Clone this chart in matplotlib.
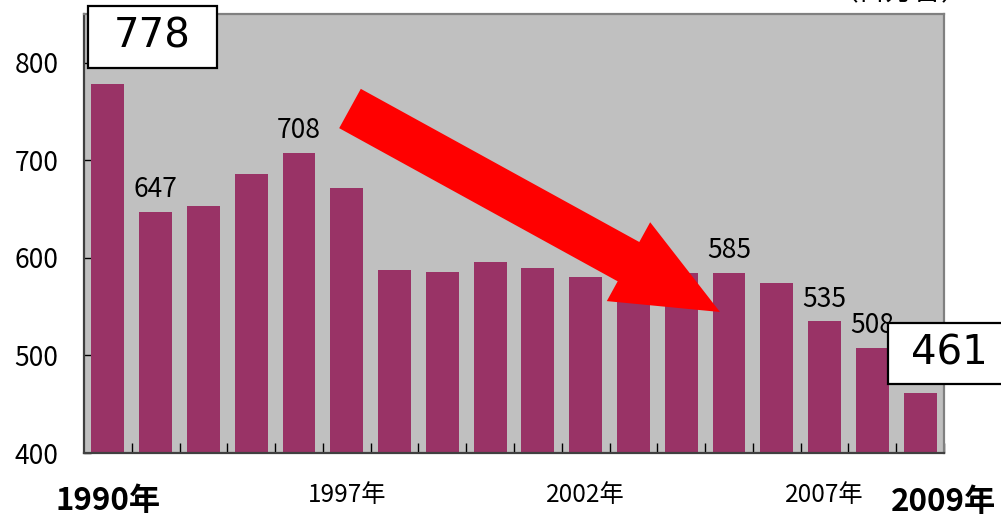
import matplotlib
matplotlib.use("Agg")
import matplotlib.pyplot as plt
from matplotlib.patches import Rectangle

# ---- data ----
years = ["1990", "1993", "1994", "1995", "1996", "1997", "1998", "1999", "2000",
         "2001", "2002", "2003", "2004", "2005", "2006", "2007", "2008", "2009"]
values = [778, 647, 653, 686, 708, 672, 588, 586, 596, 590, 580, 572, 584, 585,
          574, 535, 508, 461]
labeled_idx = [1, 4, 13, 15, 16]           # bars with plain value labels
boxed_idx = [0, 17]                          # bars highlighted with boxes
year_labels_small = ["1997", "2002", "2007"]
year_labels_big = ["1990", "2009"]
yticks = [400, 500, 600, 700, 800]
unit_text = "（百万台）"

W, H = 1001, 518
JP = ["Noto Sans CJK JP", "DejaVu Sans"]
plt.rcParams["font.family"] = JP

fig = plt.figure(figsize=(W / 100, H / 100), dpi=100)
ax = fig.add_axes([84 / W, (H - 453) / H, 860 / W, 439 / H])
ax.set_facecolor("#C0C0C0")

x = list(range(len(values)))
ax.bar(x, values, width=0.69, color="#993366", zorder=2)

ax.set_xlim(-0.5, len(values) - 0.5)
ax.set_ylim(400, 850)
ax.set_yticks(yticks)
ax.set_yticklabels([str(v) for v in yticks], fontsize=19)
ax.tick_params(axis="y", direction="in", length=5, width=1, pad=18.5, colors="black")
ax.set_xticks([i + 0.5 for i in x])
ax.set_xticklabels([])
ax.tick_params(axis="x", direction="in", length=7, width=1)

for s in ("left", "bottom"):
    ax.spines[s].set_color("#404040")
    ax.spines[s].set_linewidth(1.6)
for s in ("top", "right"):
    ax.spines[s].set_color("#808080")
    ax.spines[s].set_linewidth(1.6)

# value labels
for i in labeled_idx:
    ax.annotate(str(values[i]), (i, values[i]), xytext=(0, 10.5),
                textcoords="offset points", ha="center", va="baseline",
                fontsize=19, zorder=5)

# year labels under the axis
for lab in year_labels_small:
    i = years.index(lab)
    ax.annotate(lab + "年", (i, H - 495), xycoords=("data", "figure pixels"),
                ha="center", va="center", fontsize=17.5, annotation_clip=False)
ax.annotate(year_labels_big[0] + "年", (years.index(year_labels_big[0]), H - 501),
            xycoords=("data", "figure pixels"), ha="center", va="center",
            fontsize=22.5, fontweight="bold", annotation_clip=False)
ax.annotate(year_labels_big[1] + "年", (years.index(year_labels_big[1]), H - 502),
            xycoords=("data", "figure pixels"), xytext=(17, 0),
            textcoords="offset points", ha="center", va="center",
            fontsize=22.5, fontweight="bold", annotation_clip=False)

# big red arrow
ax.annotate("", xy=(720, H - 312), xycoords="figure pixels",
            xytext=(350, H - 108.5), textcoords="figure pixels",
            arrowprops=dict(arrowstyle="simple,head_length=0.752,head_width=0.648,tail_width=0.323",
                            mutation_scale=100, color="#FF0000", lw=0,
                            shrinkA=0, shrinkB=0),
            annotation_clip=False, zorder=4)

# boxed labels
boxes = [(88, 6, 217, 68), (888, 323, 1010, 384)]
centers = [152.5, 949]
for (x0, y0, x1, y1), cx, i in zip(boxes, centers, boxed_idx):
    rect = Rectangle((x0 / W, (H - y1) / H), (x1 - x0) / W, (y1 - y0) / H,
                     transform=fig.transFigure, facecolor="white",
                     edgecolor="black", linewidth=1.6, zorder=5)
    fig.patches.append(rect)
    fig.text(cx / W, (H - (y0 + y1) / 2) / H, str(values[i]),
             ha="center", va="center", fontsize=29, family="DejaVu Sans",
             fontweight="medium", zorder=6)

# unit text, cropped at the top edge as in the original
fig.text(900 / W, (H + 8) / H, unit_text, ha="center", va="center", fontsize=20)

fig.savefig("out.png", dpi=100)
